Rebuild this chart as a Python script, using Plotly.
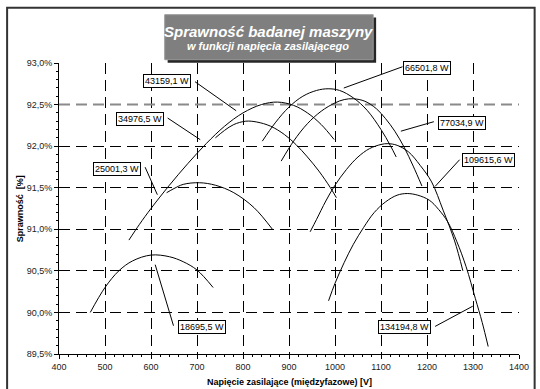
import plotly.graph_objects as go

# Sprawność maszyny [%] w funkcji napięcia międzyfazowego [V] dla kolejnych mocy
u_18695 = [468, 500, 530, 560, 600, 640, 670, 700, 735]
eta_18695 = [90.00, 90.30, 90.50, 90.62, 90.69, 90.67, 90.61, 90.51, 90.30]

u_25001 = [634, 650, 670, 705, 740, 780, 824, 864]
eta_25001 = [91.44, 91.49, 91.54, 91.56, 91.53, 91.44, 91.26, 91.00]

u_34976 = [740, 760, 780, 806, 830, 860, 890, 915, 940, 965, 990, 1003]
eta_34976 = [92.10, 92.19, 92.26, 92.30, 92.29, 92.24, 92.14, 92.02, 91.87, 91.70, 91.50, 91.38]

u_43159 = [552, 575, 600, 640, 680, 720, 760, 800, 840, 875, 910, 940, 970, 998]
eta_43159 = [90.87, 91.06, 91.25, 91.53, 91.79, 92.03, 92.24, 92.40, 92.50, 92.53, 92.49, 92.40, 92.26, 92.08]

u_66501 = [842, 870, 900, 930, 960, 985, 1010, 1040, 1070, 1100, 1120, 1133]
eta_66501 = [92.06, 92.28, 92.47, 92.60, 92.67, 92.69, 92.67, 92.58, 92.43, 92.20, 92.01, 91.87]

u_77034 = [883, 910, 940, 970, 1000, 1020, 1040, 1065, 1090, 1110, 1130, 1150, 1170, 1189]
eta_77034 = [91.82, 92.06, 92.27, 92.42, 92.52, 92.56, 92.57, 92.54, 92.45, 92.33, 92.18, 91.99, 91.76, 91.52]

u_109615 = [946, 960, 980, 1000, 1025, 1050, 1075, 1100, 1115, 1135, 1160, 1185, 1210, 1235, 1260, 1278]
eta_109615 = [90.97, 91.12, 91.34, 91.53, 91.72, 91.87, 91.97, 92.02, 92.03, 92.01, 91.93, 91.77, 91.57, 91.23, 90.86, 90.50]

u_134194 = [986, 1000, 1020, 1040, 1062, 1085, 1110, 1135, 1157, 1180, 1205, 1225, 1245, 1265, 1285, 1305, 1320, 1333]
eta_134194 = [90.14, 90.35, 90.60, 90.82, 91.02, 91.20, 91.33, 91.41, 91.43, 91.41, 91.35, 91.24, 91.09, 90.85, 90.55, 90.17, 89.88, 89.59]

series = [
    ("18695,5 W", u_18695, eta_18695),
    ("25001,3 W", u_25001, eta_25001),
    ("34976,5 W", u_34976, eta_34976),
    ("43159,1 W", u_43159, eta_43159),
    ("66501,8 W", u_66501, eta_66501),
    ("77034,9 W", u_77034, eta_77034),
    ("109615,6 W", u_109615, eta_109615),
    ("134194,8 W", u_134194, eta_134194),
]

x_ticks = [400, 500, 600, 700, 800, 900, 1000, 1100, 1200, 1300, 1400]
x_ticktext = ["400", "500", "600", "700", "800", "900", "1000", "1100", "1200", "1300", "1400"]
y_ticks = [89.5, 90.0, 90.5, 91.0, 91.5, 92.0, 92.5, 93.0]
y_ticktext = ["89,5%", "90,0%", "90,5%", "91,0%", "91,5%", "92,0%", "92,5%", "93,0%"]

# Opisy krzywych: (tekst, środek ramki, początek i koniec odnośnika) w jednostkach osi
label_layout = [
    ("18695,5 W", (710.0, 89.828), (648.9, 89.840), (609.1, 90.574)),
    ("25001,3 W", (526.2, 91.723), (587.2, 91.747), (613.8, 91.416)),
    ("34976,5 W", (576.6, 92.330), (636.2, 92.338), (707.0, 92.078)),
    ("43159,1 W", (635.1, 92.787), (695.7, 92.775), (785.1, 92.426)),
    ("66501,8 W", (1199.4, 92.943), (1146.8, 92.955), (1019.1, 92.699)),
    ("77034,9 W", (1275.1, 92.282), (1214.9, 92.294), (1143.2, 92.180)),
    ("109615,6 W", (1333.6, 91.837), (1270.9, 91.837), (1217.7, 91.516)),
    ("134194,8 W", (1150.4, 89.828), (1217.7, 89.832), (1299.4, 90.075)),
]

FONT = "Liberation Sans, Arial, sans-serif"
DASH = "11px,6px"

fig = go.Figure()
for name, u, eta in series:
    fig.add_trace(go.Scatter(
        x=u, y=eta, mode="lines", name=name,
        line=dict(color="black", width=1, shape="spline", smoothing=1.0),
        hoverinfo="skip", showlegend=False,
    ))

shapes = []
annotations = []

# the 92,5 % grid line renders as a wider grey dash
shapes.append(dict(type="line", xref="x", yref="y", x0=400, x1=1400, y0=92.5, y1=92.5,
                   line=dict(color="#8a8a8a", width=2, dash=DASH), layer="between"))

for text, (cx, cy), (px0, py0), (px1, py1) in label_layout:
    shapes.append(dict(type="line", xref="x", yref="y", x0=px0, y0=py0, x1=px1, y1=py1,
                       line=dict(color="black", width=1), layer="above"))
    annotations.append(dict(
        x=cx, y=cy, xref="x", yref="y", text=text, showarrow=False,
        font=dict(family=FONT, size=9, color="black"),
        bgcolor="white", bordercolor="black", borderwidth=1, borderpad=1,
        xanchor="center", yanchor="middle",
    ))

# outer frame of the figure
shapes.append(dict(type="rect", xref="paper", yref="paper",
                   x0=-0.1128, x1=1.034, y0=-0.14, y1=1.190,
                   line=dict(color="#333333", width=2), fillcolor="rgba(0,0,0,0)", layer="above"))

# title plate with shadow
shapes.append(dict(type="rect", xref="paper", yref="paper",
                   x0=0.2362, x1=0.6894, y0=1.0010, y1=1.1560,
                   line=dict(width=0), fillcolor="#262626", layer="above"))
shapes.append(dict(type="rect", xref="paper", yref="paper",
                   x0=0.2298, x1=0.6830, y0=1.0113, y1=1.1660,
                   line=dict(color="#9a9a9a", width=1), fillcolor="#7f7f7f", layer="above"))

annotations.append(dict(x=0.455, y=1.1076, xref="paper", yref="paper",
                        text="<b><i>Sprawność badanej maszyny</i></b>", showarrow=False,
                        font=dict(family=FONT, size=15, color="white"),
                        xanchor="center", yanchor="middle"))
annotations.append(dict(x=0.455, y=1.0577, xref="paper", yref="paper",
                        text="<b><i>w funkcji napięcia zasilającego</i></b>", showarrow=False,
                        font=dict(family=FONT, size=11, color="white"),
                        xanchor="center", yanchor="middle"))

# axis titles
annotations.append(dict(x=0.5, y=-0.0952, xref="paper", yref="paper",
                        text="<b>Napięcie zasilające (międzyfazowe) [V]</b>", showarrow=False,
                        font=dict(family=FONT, size=9, color="black"),
                        xanchor="center", yanchor="middle"))
annotations.append(dict(x=-0.0851, y=0.5, xref="paper", yref="paper",
                        text="<b>Sprawność  [%]</b>", showarrow=False, textangle=-90,
                        font=dict(family=FONT, size=9, color="black"),
                        xanchor="center", yanchor="middle"))

fig.update_xaxes(
    range=[400, 1400], tickvals=x_ticks, ticktext=x_ticktext,
    showgrid=True, gridcolor="black", gridwidth=1, griddash=DASH,
    showline=True, linecolor="black", linewidth=1, zeroline=False,
    ticks="outside", ticklen=4, tickcolor="black", tickwidth=1,
    minor=dict(tick0=400, dtick=20, ticks="outside", ticklen=2, tickcolor="black", showgrid=False),
    tickfont=dict(family=FONT, size=9, color="#222222"),
)
fig.update_yaxes(
    range=[89.5, 93.0], tickvals=y_ticks, ticktext=y_ticktext,
    showgrid=True, gridcolor="black", gridwidth=1, griddash=DASH,
    showline=True, linecolor="black", linewidth=1, zeroline=False,
    ticks="outside", ticklen=4, tickcolor="black", tickwidth=1,
    minor=dict(tick0=89.5, dtick=0.1, ticks="outside", ticklen=2, tickcolor="black", showgrid=False),
    tickfont=dict(family=FONT, size=9, color="#222222"),
)

fig.update_layout(
    width=540, height=389,
    margin=dict(l=59, r=11, t=63, b=35, pad=0),
    paper_bgcolor="white", plot_bgcolor="white",
    shapes=shapes, annotations=annotations,
    showlegend=False,
)

fig.write_html("out.html")
